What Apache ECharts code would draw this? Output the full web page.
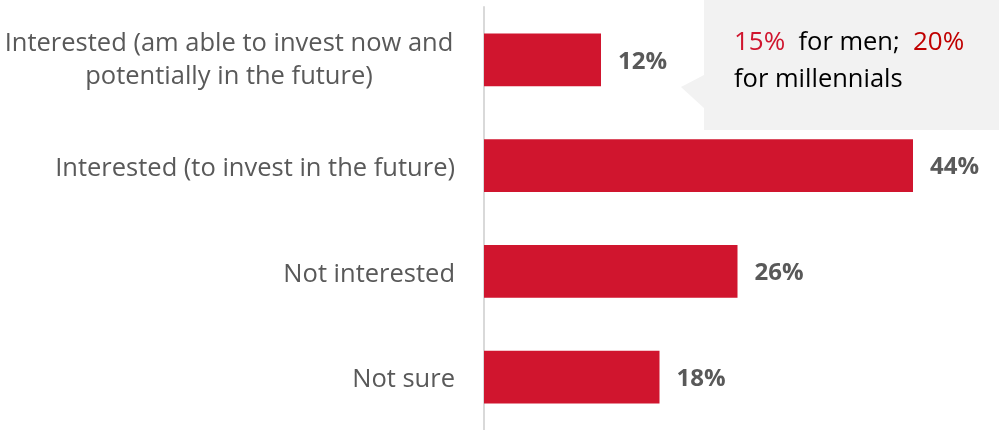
<!DOCTYPE html>
<html>
<head>
<meta charset="utf-8">
<script src="https://cdn.jsdelivr.net/npm/echarts@6/dist/echarts.min.js"></script>
<style>
  html, body { margin: 0; padding: 0; background: #ffffff; }
  #chart { width: 999px; height: 430px; }
</style>
</head>
<body>
<div id="chart"></div>
<script>
// Survey answers, top to bottom
const categories = [
  'Interested (am able to invest now and\npotentially in the future)',
  'Interested (to invest in the future)',
  'Not interested',
  'Not sure'
];
// Share of respondents, percent
const values = [12, 44, 26, 18];
// Callout note beside the first bar
const noteMen = '15%';
const noteMillennials = '20%';

const FONT = '"Open Sans", Lato, sans-serif';
const chart = echarts.init(document.getElementById('chart'), null, { renderer: 'canvas' });

chart.setOption({
  animation: false,
  backgroundColor: '#ffffff',
  grid: { left: 482, right: 86, top: 7, bottom: -3, containLabel: false },
  xAxis: {
    type: 'value', min: 0, max: 44,
    show: false
  },
  yAxis: {
    type: 'category',
    inverse: true,
    data: categories,
    axisLine: { show: true, lineStyle: { color: '#d9d9d9', width: 2 } },
    axisTick: { show: false },
    axisLabel: {
      margin: 29,
      color: '#595959',
      fontFamily: FONT,
      fontSize: 25.5,
      lineHeight: 33,
      align: 'right',
      formatter: function (v, i) {
        // wrapped label: each line centred in a fixed-width box
        if (v.indexOf('\n') >= 0) {
          return v.split('\n').map(function (s) { return '{c|' + s + '}'; }).join('\n');
        }
        return '{n|' + v + '}';
      },
      rich: {
        c: { width: 452, align: 'center', color: '#595959', fontFamily: FONT, fontSize: 25.5, lineHeight: 33 },
        n: { color: '#595959', fontFamily: FONT, fontSize: 25.5, lineHeight: 33, padding: [6, 0, 0, 0] }
      }
    }
  },
  series: [{
    type: 'bar',
    data: values,
    barCategoryGap: '50%',
    itemStyle: { color: '#d0152e' },
    label: {
      show: true,
      position: 'right',
      distance: 17,
      offset: [0, 2],
      formatter: '{c}%',
      color: '#595959',
      fontFamily: FONT,
      fontWeight: 'bold',
      fontSize: 24
    }
  }],
  graphic: [
    {
      type: 'polygon',
      shape: { points: [[704, 0], [999, 0], [999, 130], [704, 130], [704, 108], [681, 87], [704, 75]] },
      style: { fill: '#f2f2f2' },
      z: 1
    },
    {
      type: 'text',
      left: 734,
      top: 30,
      z: 2,
      style: {
        text: '{r|' + noteMen + '}{k|  for men;  }{d|' + noteMillennials + '}\n{k|for millennials}',
        rich: {
          r: { fill: '#d0152e', fontFamily: FONT, fontSize: 26, lineHeight: 37 },
          d: { fill: '#c00000', fontFamily: FONT, fontSize: 26, lineHeight: 37 },
          k: { fill: '#000000', fontFamily: FONT, fontSize: 25.5, lineHeight: 37 }
        }
      }
    }
  ]
});
</script>
</body>
</html>
